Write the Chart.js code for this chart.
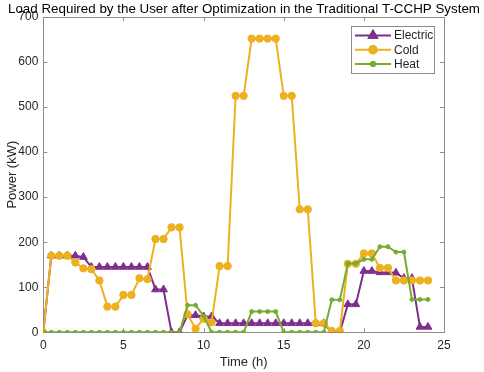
<!DOCTYPE html>
<html>
<head>
<meta charset="utf-8">
<script src="https://cdn.jsdelivr.net/npm/chart.js@4.4.1/dist/chart.umd.min.js"></script>
<style>
  html, body { margin: 0; padding: 0; background: #fff; }
  #wrap { width: 484px; height: 372px; }
</style>
</head>
<body>
<div id="wrap"><canvas id="load-chart"></canvas></div>
<script>
// --- Data (half-hour steps) ---
const hours = [0, 0.5, 1, 1.5, 2, 2.5, 3, 3.5, 4, 4.5, 5, 5.5, 6, 6.5, 7, 7.5, 8, 8.5,
    9, 9.5, 10, 10.5, 11, 11.5, 12, 12.5, 13, 13.5, 14, 14.5, 15, 15.5, 16, 16.5,
    17, 17.5, 18, 18.5, 19, 19.5, 20, 20.5, 21, 21.5, 22, 22.5, 23, 23.5, 24];
const electric = [0, 170, 170, 170, 170, 167, 145, 145, 145, 145, 145, 145, 145, 145, 95, 95, 0, 0,
    38, 38, 35, 35, 20, 20, 20, 20, 20, 20, 20, 20, 20, 20, 20, 20,
    20, 20, 0, 0, 62, 62, 136, 136, 133, 133, 132, 120, 120, 12, 12];
const cold = [0, 170, 170, 170, 155, 142, 140, 115, 57, 57, 83, 83, 120, 118, 207, 207, 233, 233,
    40, 8, 30, 22, 147, 147, 525, 525, 652, 652, 652, 652, 525, 525, 273, 273,
    20, 20, 3, 3, 152, 152, 175, 175, 143, 143, 115, 115, 115, 115, 115];
const heat = [0, 0, 0, 0, 0, 0, 0, 0, 0, 0, 0, 0, 0, 0, 0, 0, 0, 0,
    60, 60, 36, 0, 0, 0, 0, 0, 46, 46, 46, 46, 0, 0, 0, 0,
    0, 0, 72, 72, 153, 153, 162, 162, 190, 190, 178, 178, 73, 73, 73];
const xTicks = [0, 5, 10, 15, 20, 25];
const yTicks = [0, 100, 200, 300, 400, 500, 600, 700];
const chartTitle = 'Load Required by the User after Optimization in the Traditional T-CCHP System';

const toPoints = (vals) => vals.map((v, i) => ({ x: hours[i], y: v }));

const FONT = 'Arial, "Liberation Sans", Helvetica, sans-serif';
const AXIS_COLOR = '#8c8c8c';
const TEXT_COLOR = '#262626';

// --- Box + inward ticks like MATLAB axes ---
const axesBox = {
    id: 'axesBox',
    beforeDatasetsDraw(chart) {
        const { ctx, chartArea: a, scales } = chart;
        ctx.save();
        ctx.strokeStyle = AXIS_COLOR;
        ctx.lineWidth = 1;
        ctx.strokeRect(Math.round(a.left) + 0.5, Math.round(a.top) + 0.5,
            Math.round(a.right - a.left), Math.round(a.bottom - a.top));
        ctx.beginPath();
        xTicks.forEach(t => {
            const px = Math.round(scales.x.getPixelForValue(t)) + 0.5;
            ctx.moveTo(px, a.bottom); ctx.lineTo(px, a.bottom - 4);
            ctx.moveTo(px, a.top); ctx.lineTo(px, a.top + 4);
        });
        yTicks.forEach(t => {
            const py = Math.round(scales.y.getPixelForValue(t)) + 0.5;
            ctx.moveTo(a.left, py); ctx.lineTo(a.left + 4, py);
            ctx.moveTo(a.right, py); ctx.lineTo(a.right - 4, py);
        });
        ctx.stroke();
        ctx.restore();
    }
};

// --- Title centred on the whole figure ---
const figTitle = {
    id: 'figTitle',
    afterDraw(chart) {
        const { ctx, width } = chart;
        ctx.save();
        ctx.fillStyle = '#000';
        ctx.font = '13.5px ' + FONT;
        ctx.textAlign = 'center';
        ctx.textBaseline = 'middle';
        ctx.fillText(chartTitle, width / 2 + 2, 9.5, 472);
        ctx.restore();
    }
};

// --- Legend box with line + marker samples ---
const matlabLegend = {
    id: 'matlabLegend',
    afterDraw(chart) {
        const { ctx, chartArea: a } = chart;
        const w = 83, h = 47;
        const x0 = Math.round(a.right) - 10 - w, y0 = Math.round(a.top) + 9;
        ctx.save();
        ctx.fillStyle = '#fff';
        ctx.fillRect(x0, y0, w, h);
        ctx.strokeStyle = AXIS_COLOR;
        ctx.lineWidth = 1;
        ctx.strokeRect(x0 + 0.5, y0 + 0.5, w, h);
        chart.data.datasets.forEach((ds, i) => {
            const cy = y0 + 9.5 + i * 14.2;
            ctx.strokeStyle = ds.borderColor;
            ctx.lineWidth = 2;
            ctx.beginPath();
            ctx.moveTo(x0 + 4, cy); ctx.lineTo(x0 + 40, cy);
            ctx.stroke();
            Chart.helpers.drawPoint(ctx, {
                pointStyle: ds.pointStyle, radius: ds.pointRadius, borderWidth: 1, rotation: 0
            }, x0 + 22, cy);
            ctx.fillStyle = ds.borderColor;
            ctx.strokeStyle = ds.borderColor;
            ctx.fill();
            ctx.stroke();
            ctx.fillStyle = TEXT_COLOR;
            ctx.font = '12px ' + FONT;
            ctx.textBaseline = 'middle';
            ctx.fillText(ds.label, x0 + 43, cy + 0.5);
        });
        ctx.restore();
    }
};

const series = (label, vals, color, style, radius, order) => ({
    label,
    data: toPoints(vals),
    borderColor: color,
    backgroundColor: color,
    pointBackgroundColor: color,
    pointBorderColor: color,
    pointStyle: style,
    pointRadius: radius,
    pointBorderWidth: 1,
    borderWidth: 2,
    tension: 0,
    order
});

new Chart(document.getElementById('load-chart').getContext('2d'), {
    type: 'line',
    data: {
        datasets: [
            series('Electric', electric, '#7E2F8E', 'triangle', 4.5, 3),
            series('Cold', cold, '#EDB120', 'circle', 3.7, 2),
            series('Heat', heat, '#77AC30', 'circle', 2, 1)
        ]
    },
    options: {
        responsive: true,
        maintainAspectRatio: false,
        animation: false,
        layout: { padding: { left: 4, right: 40, top: 17, bottom: 0 } },
        plugins: {
            legend: { display: false },
            tooltip: { enabled: false },
            title: { display: false }
        },
        scales: {
            x: {
                type: 'linear', min: 0, max: 25,
                grid: { display: false, drawTicks: false },
                border: { display: false },
                ticks: { stepSize: 5, color: TEXT_COLOR, font: { family: FONT, size: 12 }, padding: 6, maxRotation: 0 },
                title: { display: true, text: 'Time (h)', color: TEXT_COLOR, font: { family: FONT, size: 13 }, padding: { top: 2, bottom: 2 } },
                afterFit(scale) { scale.height = 39.7; }
            },
            y: {
                min: 0, max: 700,
                grid: { display: false, drawTicks: false },
                border: { display: false },
                ticks: { stepSize: 100, color: TEXT_COLOR, font: { family: FONT, size: 12 }, padding: 5 },
                title: { display: true, text: 'Power (kW)', color: TEXT_COLOR, font: { family: FONT, size: 13 }, padding: { top: 1, bottom: 2 } },
                afterFit(scale) { scale.width = 39.3; }
            }
        }
    },
    plugins: [axesBox, figTitle, matlabLegend]
});
</script>
</body>
</html>
